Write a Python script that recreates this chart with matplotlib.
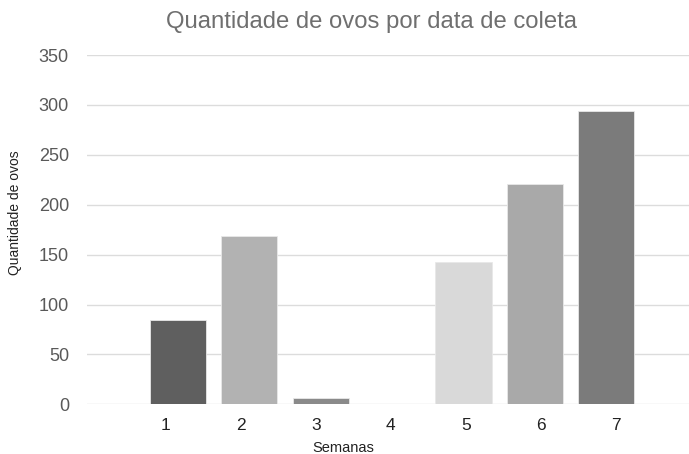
import matplotlib
matplotlib.use("Agg")
import matplotlib.pyplot as plt
import numpy as np

plt.rcParams['font.family'] = ['Liberation Sans', 'DejaVu Sans']

semanas = ["1", "2", "3", "4", "5", "6", "7"]
ovos = [84, 169, 6, 0, 143, 221, 294]
cores = ["#5f5f5f", "#b2b2b2", "#8a8a8a", "#9a9a9a", "#d9d9d9", "#a9a9a9", "#7b7b7b"]
y_ticks = [0, 50, 100, 150, 200, 250, 300, 350]

fig = plt.figure(figsize=(6.89, 4.54), dpi=100)
ax = fig.add_axes([87/689, 1 - 404.3/454, 1 - 87/689, (404.3 - 55)/454])

x = np.arange(len(semanas))
ax.bar(x, ovos, width=0.785, color=cores, edgecolor="#e8e8e8", linewidth=0.6, zorder=3)

ax.set_ylim(0, 350)
ax.set_xlim(-1.276, 7.16)
ax.set_yticks(y_ticks)
ax.set_yticklabels([str(v) for v in y_ticks], fontsize=13, color="#595959")
# category labels are spread slightly wider than the bars in the reference
tick_pos = 3 + (x - 3) * 1.0514 - 0.02
ax.set_xticks(tick_pos)
ax.set_xticklabels(semanas, fontsize=12.5, color="#222222")
ax.tick_params(axis="both", length=0)
ax.tick_params(axis="y", pad=13)
ax.tick_params(axis="x", pad=10)

ax.grid(axis="y", color="#dcdcdc", linewidth=1, zorder=0)
for s in ax.spines.values():
    s.set_visible(False)

fig.text(371/689, 1 - 22/454, "Quantidade de ovos por data de coleta",
         ha="center", va="center", fontsize=17.2, color="#6f6f6f")
fig.text(15/689, 1 - 213/454, "Quantidade de ovos", rotation=90,
         ha="center", va="center", fontsize=10, color="#222222")
fig.text(343/689, 1 - 448/454, "Semanas", ha="center", va="center",
         fontsize=10.5, color="#222222")

fig.savefig("out.png", dpi=100)
